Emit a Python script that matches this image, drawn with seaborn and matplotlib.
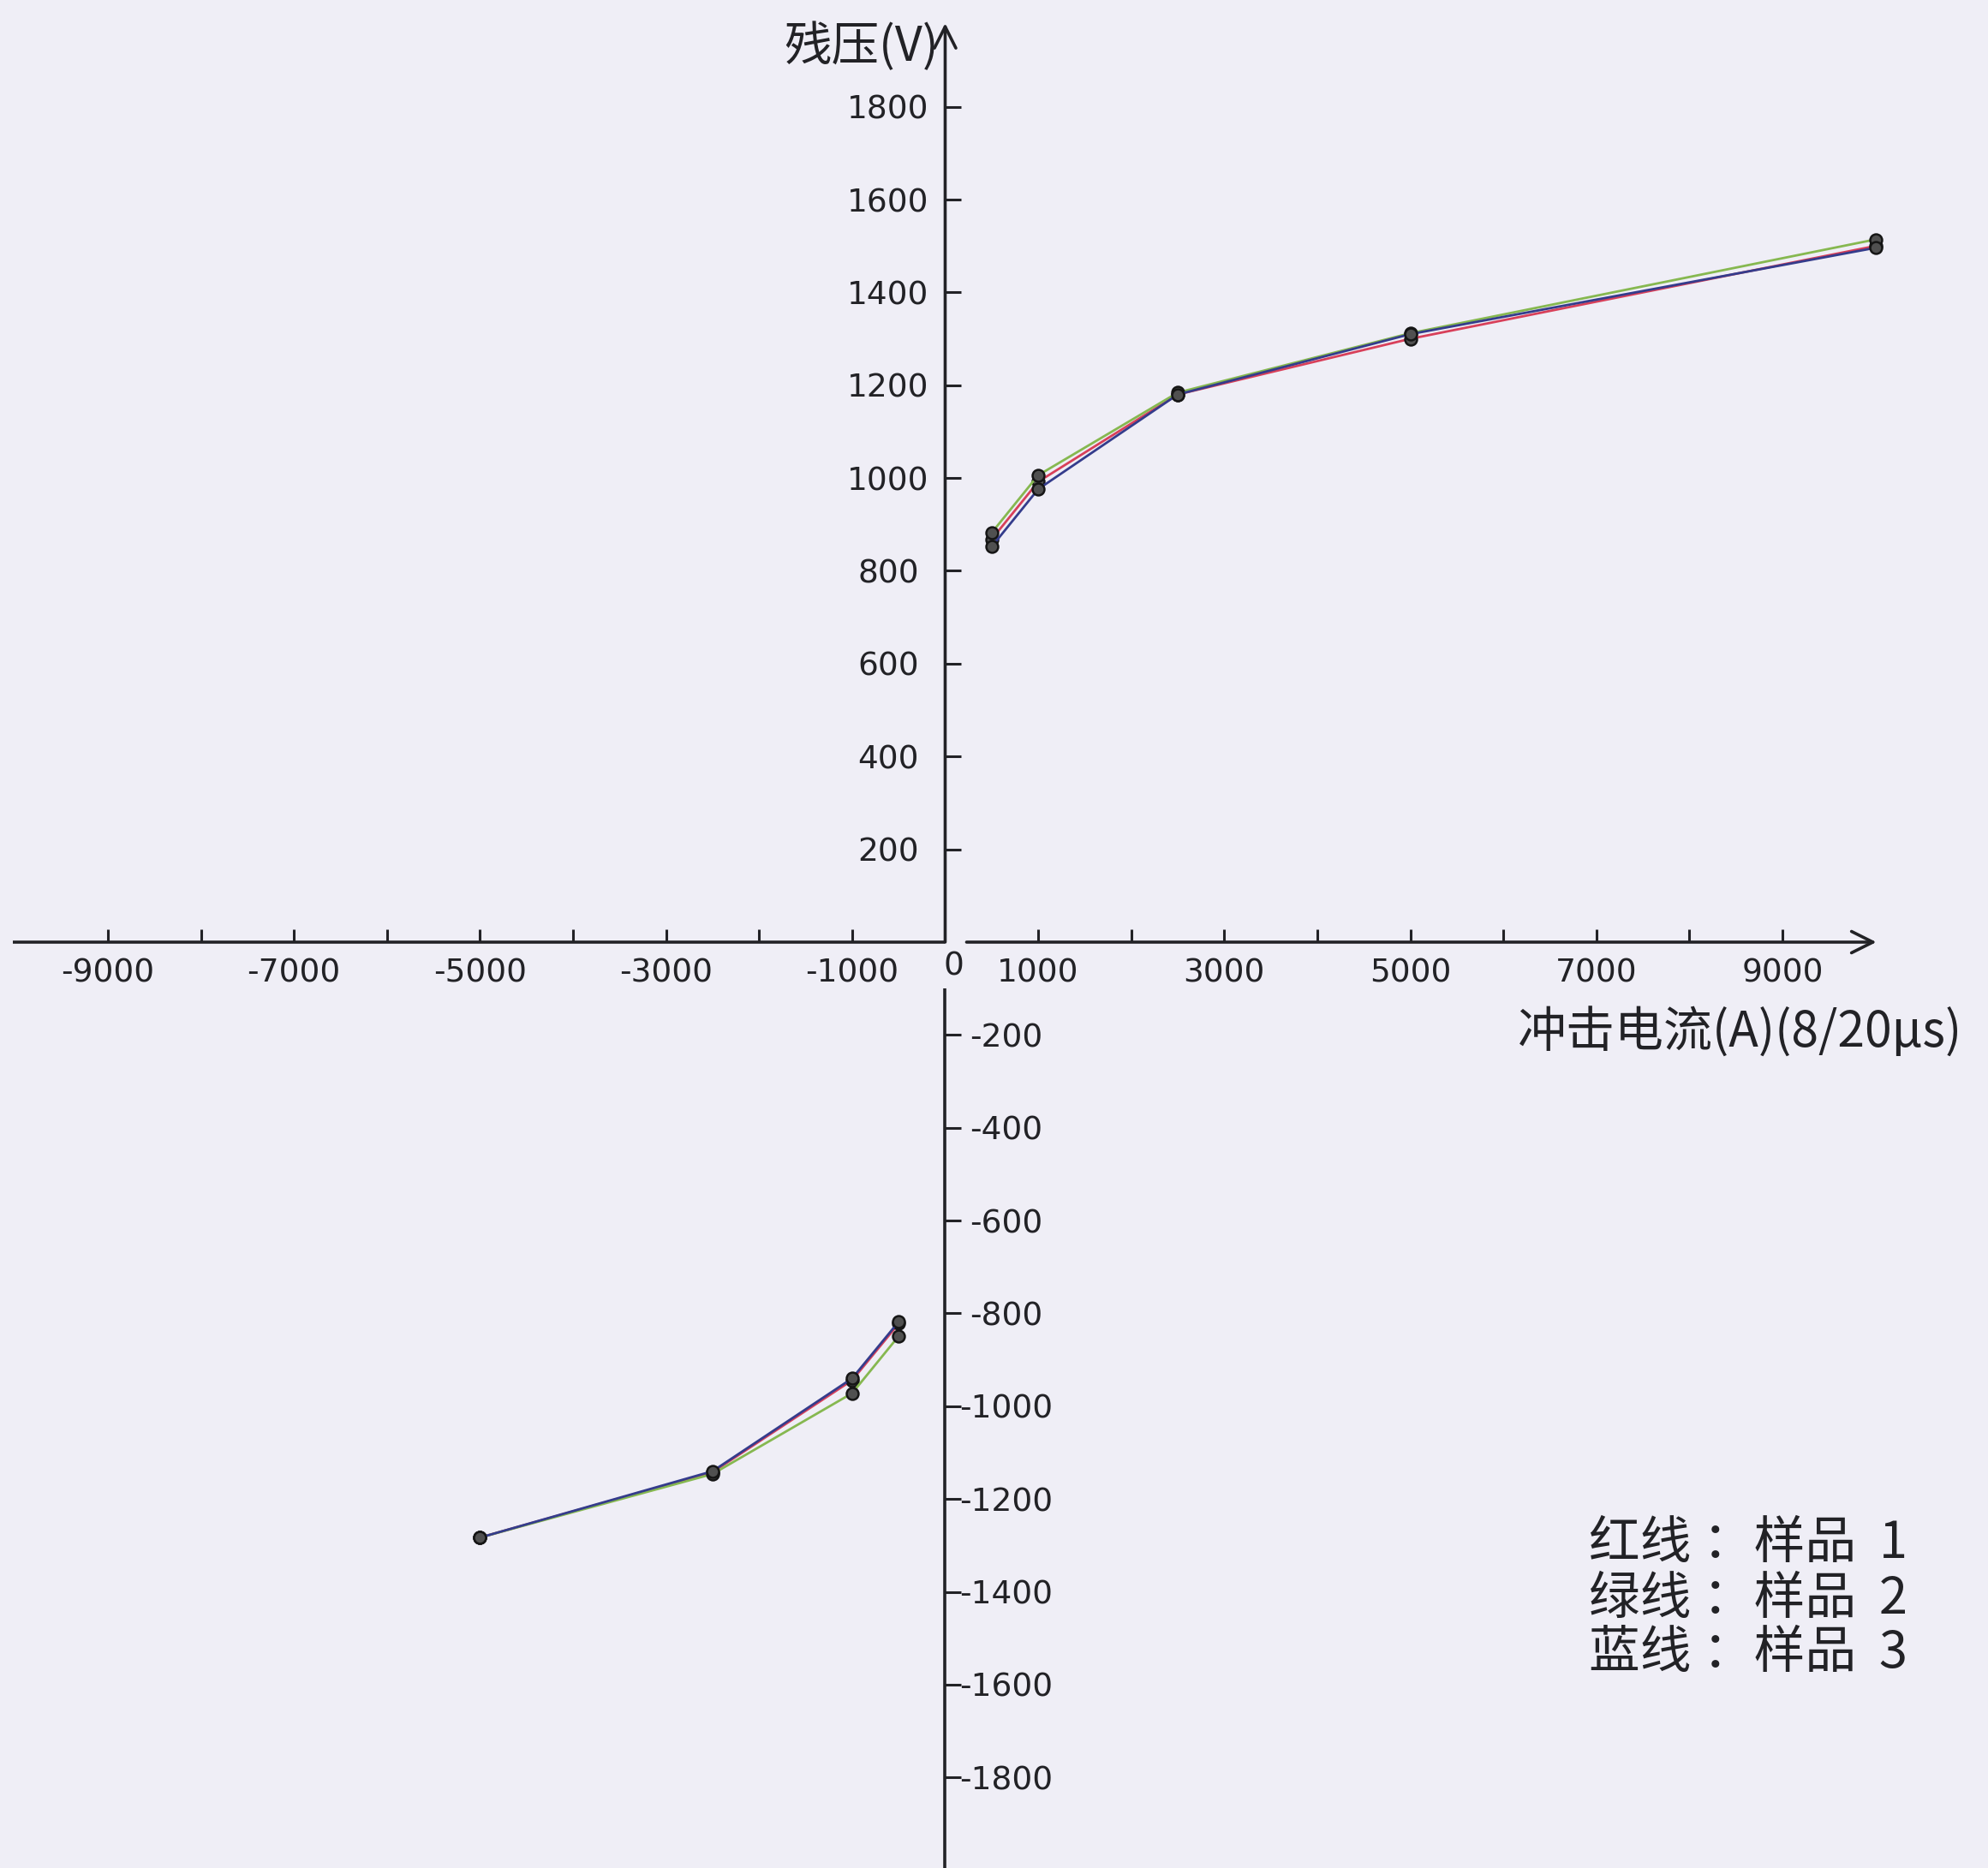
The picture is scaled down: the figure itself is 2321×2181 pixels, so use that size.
import matplotlib
matplotlib.use("Agg")
import matplotlib.pyplot as plt
import numpy as np
import pandas as pd
import seaborn as sns

# 压敏电阻 8/20μs 冲击电流下的残压曲线（正、负两个方向，三只样品）
pos_current = [500, 1000, 2500, 5000, 10000]
pos_v_s1 = [868, 992, 1180, 1300, 1500]
pos_v_s2 = [882, 1006, 1184, 1312, 1514]
pos_v_s3 = [852, 976, 1180, 1310, 1496]

neg_current = [-500, -1000, -2500, -5000]
neg_v_s1 = [-822, -944, -1142, -1283]
neg_v_s2 = [-849, -972, -1146, -1283]
neg_v_s3 = [-818, -940, -1140, -1283]

samples = ["样品1", "样品2", "样品3"]
line_colors = ["#d8405a", "#86b850", "#343c8c"]

x_ticks = [-9000, -8000, -7000, -6000, -5000, -4000, -3000, -2000, -1000,
           1000, 2000, 3000, 4000, 5000, 6000, 7000, 8000, 9000]
y_ticks_pos = [200, 400, 600, 800, 1000, 1200, 1400, 1600, 1800]
y_ticks_neg = [-200, -400, -600, -800, -1000, -1200, -1400, -1600, -1800]

legend_lines = ["红线 ：样品  1", "绿线 ：样品  2", "蓝线 ：样品  3"]

bg = "#efeef6"
ink = "#222226"
cjk = ["Noto Sans CJK SC", "DejaVu Sans"]

plt.rcParams["axes.unicode_minus"] = False

pos_v = [pos_v_s1, pos_v_s2, pos_v_s3]
neg_v = [neg_v_s1, neg_v_s2, neg_v_s3]
frames = []
for s, pv, nv in zip(samples, pos_v, neg_v):
    frames.append(pd.DataFrame({"I": pos_current, "V": pv, "sample": s, "branch": "pos"}))
    frames.append(pd.DataFrame({"I": neg_current, "V": nv, "sample": s, "branch": "neg"}))
df = pd.concat(frames, ignore_index=True)

fig = plt.figure(figsize=(23.21, 21.81), dpi=100, facecolor=bg)
ax = fig.add_axes([0, 0, 1, 1], facecolor=bg)

sns.lineplot(data=df, x="I", y="V", hue="sample", units="branch", estimator=None,
             sort=False, hue_order=samples, palette=dict(zip(samples, line_colors)),
             marker="o", markersize=10, markerfacecolor="#505050",
             markeredgecolor="#151515", markeredgewidth=1.8, linewidth=2.0,
             legend=False, ax=ax, zorder=3)

ax.set_xlim(-10160, 11210)
ax.set_ylim(-1995, 2030)
ax.set_xlabel("")
ax.set_ylabel("")

for sp in ax.spines.values():
    sp.set_visible(False)
ax.spines["bottom"].set_position(("data", 0))
ax.spines["left"].set_position(("data", 0))

# 坐标轴（原图中原点附近有缺口）
axis_kw = dict(color=ink, lw=2.6, solid_capstyle="butt")
ax.plot([-10020, 0], [0, 0], **axis_kw)
ax.plot([0, 0], [-1995, -100], **axis_kw)
ax.annotate("", xy=(10010, 0), xytext=(230, 0),
            arrowprops=dict(arrowstyle="->", color=ink, lw=2.6, mutation_scale=45,
                            shrinkA=0, shrinkB=0))
ax.annotate("", xy=(0, 1980), xytext=(0, 0),
            arrowprops=dict(arrowstyle="->", color=ink, lw=2.6, mutation_scale=45,
                            shrinkA=0, shrinkB=0))

x_labels = [f"{t}" if t % 2000 else "" for t in x_ticks]
ax.set_xticks(x_ticks, x_labels)
ax.tick_params(axis="x", direction="in", length=11, width=2.2, color=ink,
               pad=13, labelsize=27, labelcolor=ink)

ax.set_yticks(y_ticks_pos, [str(t) for t in y_ticks_pos], ha="center")
ax.tick_params(axis="y", direction="in", length=14, width=2.2, color=ink,
               pad=48, labelsize=27, labelcolor=ink)

ax2 = ax.twinx()
ax2.set_ylim(ax.get_ylim())
for sp in ax2.spines.values():
    sp.set_visible(False)
ax2.spines["right"].set_position(("data", 0))
ax2.set_yticks(y_ticks_neg, [str(t) for t in y_ticks_neg], ha="center")
ax2.tick_params(axis="y", direction="out", length=14, width=2.2, color=ink,
                pad=37, labelsize=27, labelcolor=ink)
ax2.patch.set_visible(False)

ax.text(90, -52, "0", ha="center", va="center", fontsize=27, color=ink)

fig.text(1006 / 2321, 1 - 55 / 2181, "残压(V)", ha="center", va="center",
         fontsize=40, color=ink, family=cjk)
fig.text(1772 / 2321, 1 - 1206 / 2181, "冲击电流(A)(8/20μs)", ha="left", va="center",
         fontsize=41, color=ink, family=cjk)
for i, line in enumerate(legend_lines):
    fig.text(1855 / 2321, 1 - (1803 + 64 * i) / 2181, line, ha="left", va="center",
             fontsize=43, color=ink, family=cjk)

fig.savefig("out.png", dpi=100, facecolor=bg)
